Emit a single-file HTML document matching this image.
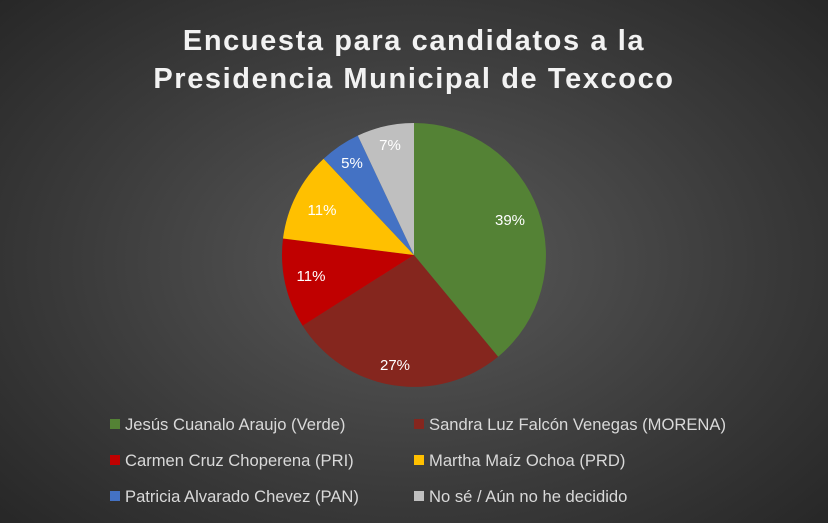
<!DOCTYPE html>
<html><head><meta charset="utf-8"><style>
body{margin:0;width:828px;height:523px;overflow:hidden;background:radial-gradient(ellipse 70% 75% at 50% 50%,#5a5a5a 0%,#3a3a3a 60%,#262626 100%);font-family:"Liberation Sans",sans-serif}
</style></head><body>
<svg width="828" height="523" xmlns="http://www.w3.org/2000/svg" style="position:absolute;left:0;top:0">
<g font-family="Liberation Sans, sans-serif" font-weight="bold" font-size="29" fill="#f2f2f2" text-anchor="middle" letter-spacing="1.6">
<text x="414" y="50">Encuesta para candidatos a la</text>
<text x="414" y="88">Presidencia Municipal de Texcoco</text>
</g>
<g stroke="none">
<path d="M414 255 L414 123 A132 132 0 0 1 498.1 356.7 Z" fill="#548235"/>
<path d="M414 255 L498.1 356.7 A132 132 0 0 1 302.6 325.7 Z" fill="#85261e"/>
<path d="M414 255 L302.6 325.7 A132 132 0 0 1 283 238.5 Z" fill="#c00000"/>
<path d="M414 255 L283 238.5 A132 132 0 0 1 323.6 158.8 Z" fill="#ffc000"/>
<path d="M414 255 L323.6 158.8 A132 132 0 0 1 357.8 135.6 Z" fill="#4472c4"/>
<path d="M414 255 L357.8 135.6 A132 132 0 0 1 414 123 Z" fill="#bfbfbf"/>
</g>
<g font-size="15" fill="#ffffff" text-anchor="middle" font-family="Liberation Sans, sans-serif">
<text x="510" y="225">39%</text>
<text x="395" y="370">27%</text>
<text x="311" y="281">11%</text>
<text x="322" y="215">11%</text>
<text x="352" y="168">5%</text>
<text x="390" y="150">7%</text>
</g>
<g font-size="16.6" fill="#d9d9d9" font-family="Liberation Sans, sans-serif">
<rect x="110" y="419" width="10" height="10" fill="#548235"/><text x="125" y="430">Jesús Cuanalo Araujo (Verde)</text>
<rect x="414" y="419" width="10" height="10" fill="#85261e"/><text x="429" y="430">Sandra Luz Falcón Venegas (MORENA)</text>
<rect x="110" y="455" width="10" height="10" fill="#c00000"/><text x="125" y="466">Carmen Cruz Choperena (PRI)</text>
<rect x="414" y="455" width="10" height="10" fill="#ffc000"/><text x="429" y="466">Martha Maíz Ochoa (PRD)</text>
<rect x="110" y="491" width="10" height="10" fill="#4472c4"/><text x="125" y="502">Patricia Alvarado Chevez (PAN)</text>
<rect x="414" y="491" width="10" height="10" fill="#bfbfbf"/><text x="429" y="502">No sé / Aún no he decidido</text>
</g>
</svg>
</body></html>
